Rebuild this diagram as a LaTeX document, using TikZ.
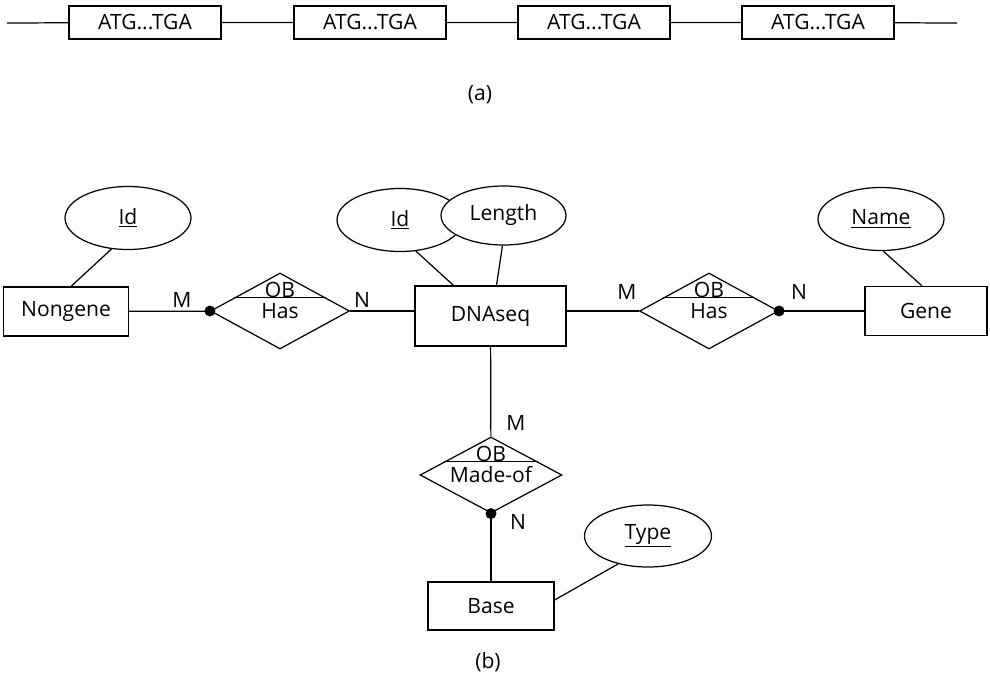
\documentclass[tikz,border=0pt]{standalone}
\usepackage{fontspec}
\setmainfont{Open Sans}
\usetikzlibrary{shapes.geometric,calc}

\begin{document}
\begin{tikzpicture}[
    x=0.02cm, y=-0.02cm, line width=0.7pt,
    every node/.style={font=\fontsize{12}{14}\selectfont},
    seg/.style={draw, minimum width=3.04cm, minimum height=0.66cm, inner sep=0pt},
    ent/.style={draw, minimum width=2.5cm, minimum height=0.98cm, inner sep=0pt},
    attr/.style={draw, ellipse, fill=white, minimum width=2.52cm, minimum height=1.26cm, inner sep=0pt},
    rel/.style={draw, diamond, aspect=1.85, minimum width=2.78cm, minimum height=1.52cm, inner sep=0pt},
    dot/.style={circle, fill, inner sep=0pt, minimum size=0.22cm},
    card/.style={inner sep=0pt}
  ]
    \useasboundingbox (0,0) rectangle (990,676);

    \coordinate (s) at (7,23);
    \coordinate (e) at (957,23);
    \foreach \i/\x in {1/145,2/370,3/594,4/818}
      \node[seg] (g\i) at (\x,22.5) {ATG...TGA};
    \draw (s) -- (g1) -- (g2) -- (g3) -- (g4) -- (e);
    \node (capA) at (480,95) {(a)};

    \node[ent] (nongene) at (66,311.5) {Nongene};
    \node[ent, minimum width=3.02cm, minimum height=1.2cm] (dna) at (490.5,316) {DNAseq};
    \node[ent, minimum width=2.44cm] (gene) at (926,311) {Gene};
    \node[ent, minimum width=2.52cm, minimum height=0.96cm] (base) at (491,606) {Base};

    \node[attr] (idN) at (128,218) {\underline{Id}};
    \node[attr] (idD) at (400,220) {\underline{Id}};
    \node[attr, minimum width=2.5cm, minimum height=1.18cm] (len) at (503.5,215.5) {Length};
    \node[attr] (name) at (881,219) {\underline{Name}};
    \node[attr, minimum width=2.54cm, minimum height=1.24cm] (type) at (648,536) {\underline{Type}};

    \node[rel] (hasL) at (280,311) {Has};
    \node[rel] (hasR) at (709,311) {Has};
    \node[rel, minimum width=2.84cm] (made) at (491,475) {Made-of};

    \foreach \r in {hasL,hasR,made} {
      \draw ($(\r.north)!0.653!(\r.west)$) -- ($(\r.north)!0.653!(\r.east)$);
      \node[card, anchor=base] (ob-\r) at ($(\r.north)!0.322!(\r.south)$) {OB};
    }

    \draw (nongene) -- (hasL);
    \draw (hasL.east) -- (hasL.east -| dna.west);
    \draw (dna.east |- hasR.west) -- (hasR.west);
    \draw (hasR) -- (gene);
    \draw (dna) -- (made);
    \draw (made) -- (base);
    \draw (idN.242) -- ($(nongene.north)+(5,0)$);
    \draw (idD.297) -- ($(dna.north)+(-37,0)$);
    \draw (len.268) -- ($(dna.north)+(6,0)$);
    \draw (name.274) -- ($(gene.north)+(-4,0)$);
    \draw ($(base.east)+(0,-6)$) -- (type.223);

    \node[dot] (dL) at (hasL.west) {};
    \node[dot] (dR) at (hasR.east) {};
    \node[dot] (dM) at (made.south) {};

    \node[card] (mL) at (182,300) {M};
    \node[card] (nL) at (362,300) {N};
    \node[card] (mR) at (627,292) {M};
    \node[card] (nR) at (799,292) {N};
    \node[card] (mM) at (516,423) {M};
    \node[card] (nM) at (518,522) {N};

    \node (capB) at (488,662) {(b)};
  \end{tikzpicture}
\end{document}
